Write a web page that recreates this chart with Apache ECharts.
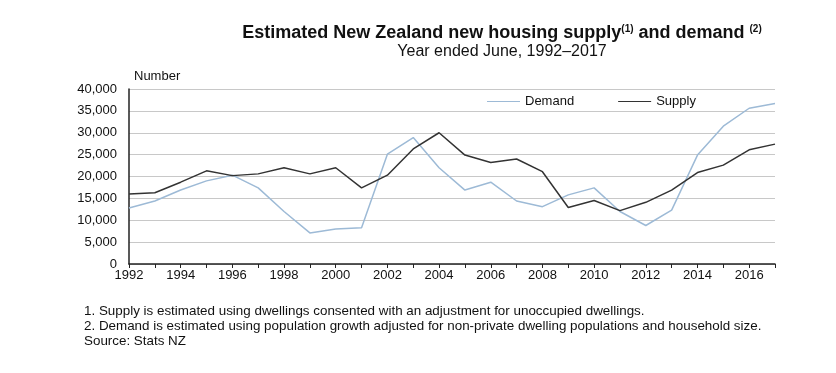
<!DOCTYPE html>
<html><head><meta charset="utf-8">
<script src="https://cdn.jsdelivr.net/npm/echarts@6/dist/echarts.min.js"></script>
<style>html,body{margin:0;padding:0;background:#fff}#c{width:836px;height:373px}</style>
</head><body><div id="c"></div>
<script>
var years = ['1992','1993','1994','1995','1996','1997','1998','1999','2000','2001','2002','2003','2004','2005','2006','2007','2008','2009','2010','2011','2012','2013','2014','2015','2016','2017'];
var demand = [12800,14400,16900,19000,20300,17400,12000,7100,8000,8300,25100,28900,22000,16900,18700,14400,13100,15800,17400,12000,8800,12300,24900,31500,35600,36700];
var supply = [16000,16300,18700,21300,20200,20600,22000,20600,22000,17400,20300,26300,30000,24900,23200,24000,21100,12900,14500,12200,14100,16900,20900,22600,26100,27400];
var footnotes = [
 '1. Supply is estimated using dwellings consented with an adjustment for unoccupied dwellings.',
 '2. Demand is estimated using population growth adjusted for non-private dwelling populations and household size.',
 'Source: Stats NZ'
];
var font = 'Liberation Sans, Arial, sans-serif';
var chart = echarts.init(document.getElementById('c'));
chart.setOption({
  backgroundColor: '#ffffff',
  animation: false,
  textStyle: {fontFamily: font},
  title: [
    {text: 'Estimated New Zealand new housing supply{sup|(1)} and demand {sup|(2)}', left: 497, top: 19, textAlign: 'center',
     textStyle: {fontFamily: font, fontSize: 18, fontWeight: 'bold', color: '#111',
       rich: {sup: {fontSize: 10, fontWeight: 'bold', verticalAlign: 'top', color: '#111', padding: [0,0,7,0]}}}},
    {text: 'Year ended June, 1992\u20132017', left: 497, top: 39, textAlign: 'center',
     textStyle: {fontFamily: font, fontSize: 16, fontWeight: 'normal', color: '#111'}},
    {text: footnotes.join('\n'), left: 79, top: 299,
     textStyle: {fontFamily: font, fontSize: 13.4, fontWeight: 'normal', color: '#111', lineHeight: 15}}
  ],
  legend: {
    top: 95, left: 487, padding: 0, itemGap: 44, itemWidth: 33, itemHeight: 10,
    icon: 'path://M0,4.5 L33,4.5 L33,5.5 L0,5.5 Z',
    textStyle: {fontFamily: font, fontSize: 13, color: '#111'},
    data: ['Demand', 'Supply']
  },
  grid: {left: 129, right: 61, top: 89, bottom: 109},
  xAxis: {
    type: 'category', data: years, boundaryGap: false,
    axisLine: {lineStyle: {color: '#222', width: 1.5}},
    axisTick: {show: true, interval: 0, length: 4, lineStyle: {color: '#222'}},
    axisLabel: {interval: 1, color: '#111', fontSize: 13, fontFamily: font, margin: 5},
    splitLine: {show: false}
  },
  yAxis: {
    type: 'value', min: 0, max: 40000, interval: 5000,
    name: 'Number', nameLocation: 'end', nameGap: 6,
    nameTextStyle: {color: '#111', fontSize: 13, fontFamily: font, align: 'left', padding: [0,0,0,5]},
    axisLine: {show: true, lineStyle: {color: '#222', width: 1.5}},
    axisTick: {show: false},
    axisLabel: {color: '#111', fontSize: 13, fontFamily: font, margin: 12,
      formatter: function(v){ return v.toLocaleString('en-US'); }},
    splitLine: {lineStyle: {color: '#c8c8c8', width: 1}}
  },
  series: [
    {name: 'Demand', type: 'line', data: demand, symbol: 'none', lineStyle: {color: '#9dbad6', width: 1.5}, itemStyle: {color: '#9dbad6'}},
    {name: 'Supply', type: 'line', data: supply, symbol: 'none', lineStyle: {color: '#333333', width: 1.5}, itemStyle: {color: '#333333'}}
  ]
});
</script></body></html>
